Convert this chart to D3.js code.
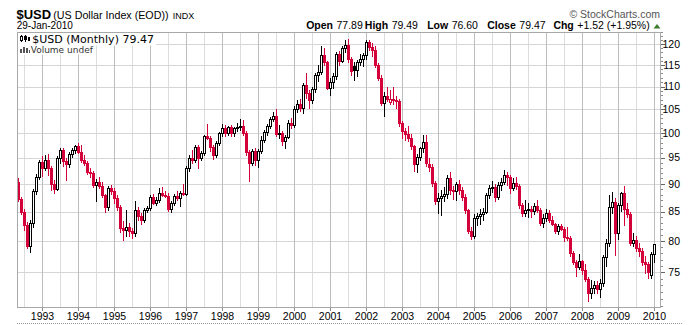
<!DOCTYPE html>
<html><head><meta charset="utf-8">
<script src="https://cdn.jsdelivr.net/npm/d3@7"></script>
<style>
body{margin:0;background:#fff;}
svg{display:block;font-family:"Liberation Sans",Arial,sans-serif;}
</style>
</head><body>
<svg id="chart" width="692" height="325"></svg>
<script>
// ---------- DATA (monthly OHLC, $USD) ----------
const months = [
"1992-05","1992-06","1992-07","1992-08","1992-09","1992-10","1992-11","1992-12",
"1993-01","1993-02","1993-03","1993-04","1993-05","1993-06","1993-07","1993-08","1993-09","1993-10","1993-11","1993-12",
"1994-01","1994-02","1994-03","1994-04","1994-05","1994-06","1994-07","1994-08","1994-09","1994-10","1994-11","1994-12",
"1995-01","1995-02","1995-03","1995-04","1995-05","1995-06","1995-07","1995-08","1995-09","1995-10","1995-11","1995-12",
"1996-01","1996-02","1996-03","1996-04","1996-05","1996-06","1996-07","1996-08","1996-09","1996-10","1996-11","1996-12",
"1997-01","1997-02","1997-03","1997-04","1997-05","1997-06","1997-07","1997-08","1997-09","1997-10","1997-11","1997-12",
"1998-01","1998-02","1998-03","1998-04","1998-05","1998-06","1998-07","1998-08","1998-09","1998-10","1998-11","1998-12",
"1999-01","1999-02","1999-03","1999-04","1999-05","1999-06","1999-07","1999-08","1999-09","1999-10","1999-11","1999-12",
"2000-01","2000-02","2000-03","2000-04","2000-05","2000-06","2000-07","2000-08","2000-09","2000-10","2000-11","2000-12",
"2001-01","2001-02","2001-03","2001-04","2001-05","2001-06","2001-07","2001-08","2001-09","2001-10","2001-11","2001-12",
"2002-01","2002-02","2002-03","2002-04","2002-05","2002-06","2002-07","2002-08","2002-09","2002-10","2002-11","2002-12",
"2003-01","2003-02","2003-03","2003-04","2003-05","2003-06","2003-07","2003-08","2003-09","2003-10","2003-11","2003-12",
"2004-01","2004-02","2004-03","2004-04","2004-05","2004-06","2004-07","2004-08","2004-09","2004-10","2004-11","2004-12",
"2005-01","2005-02","2005-03","2005-04","2005-05","2005-06","2005-07","2005-08","2005-09","2005-10","2005-11","2005-12",
"2006-01","2006-02","2006-03","2006-04","2006-05","2006-06","2006-07","2006-08","2006-09","2006-10","2006-11","2006-12",
"2007-01","2007-02","2007-03","2007-04","2007-05","2007-06","2007-07","2007-08","2007-09","2007-10","2007-11","2007-12",
"2008-01","2008-02","2008-03","2008-04","2008-05","2008-06","2008-07","2008-08","2008-09","2008-10","2008-11","2008-12",
"2009-01","2009-02","2009-03","2009-04","2009-05","2009-06","2009-07","2009-08","2009-09","2009-10","2009-11","2009-12",
"2010-01"];

const open = [
90.4,87.2,85.0,82.6,79.1,83.1,88.6,91.2,
94.2,93.0,94.5,92.9,90.0,89.1,94.9,96.5,94.3,93.7,95.7,96.5,
97.3,96.1,94.6,94.0,92.3,92.1,89.8,90.3,89.6,87.9,85.8,89.2,
88.6,87.5,85.8,82.1,81.8,82.4,81.6,81.3,85.3,84.2,83.6,85.3,
85.6,87.6,86.6,87.0,88.3,88.0,87.8,85.5,86.5,87.8,87.5,88.3,
88.1,92.9,95.0,94.5,97.2,95.0,96.0,99.3,98.9,97.1,95.5,98.0,
99.9,101.0,99.9,101.2,99.9,100.9,101.1,101.4,99.9,96.2,94.0,96.4,
94.5,96.3,98.6,100.1,101.3,102.9,103.5,99.7,100.0,98.4,99.2,102.1,
101.6,105.0,106.2,105.2,110.4,108.6,106.9,109.4,112.7,113.3,117.3,115.6,
109.7,111.0,112.3,117.7,116.0,119.2,119.8,116.4,114.7,113.7,115.6,116.4,
117.3,120.5,119.3,118.6,115.0,112.0,106.3,107.8,106.6,107.1,106.9,106.7,
102.0,100.3,99.8,99.0,97.3,93.8,95.1,96.9,98.2,93.8,93.1,90.2,
86.9,87.4,87.7,88.2,91.0,88.9,88.6,89.9,88.9,87.6,85.2,81.7,
80.9,83.9,84.3,84.6,85.0,88.0,89.2,89.4,87.6,89.8,90.4,91.7,
91.2,89.2,90.2,89.6,86.1,84.8,85.2,85.4,85.1,85.9,85.3,83.1,
83.8,84.8,83.6,82.9,81.6,82.5,82.0,80.6,80.5,78.0,76.6,75.9,
76.7,75.3,73.9,71.8,72.6,73.0,72.5,73.3,77.4,79.7,85.8,86.7,
81.3,86.1,88.3,85.4,84.6,79.6,80.2,78.8,78.4,76.6,76.3,74.6,
77.89];

const high = [
91.0,87.6,85.5,83.2,83.6,89.0,91.9,94.6,
95.3,95.6,95.7,93.3,90.7,95.3,97.0,97.0,94.9,96.2,96.9,97.6,
98.0,97.6,95.5,94.3,93.0,92.5,90.9,91.3,90.3,88.2,89.6,89.7,
89.2,88.0,86.2,83.4,85.3,83.0,82.2,86.8,85.8,84.8,85.6,85.9,
88.0,88.1,87.6,89.2,89.4,88.7,88.3,86.9,88.1,88.6,88.6,89.9,
93.3,95.5,96.5,97.6,97.6,96.3,99.6,101.9,99.4,97.5,98.3,100.2,
101.9,101.6,101.5,101.6,101.2,102.0,102.8,102.6,100.4,96.5,96.8,96.9,
96.8,99.3,100.6,101.8,103.3,104.3,105.0,101.6,100.4,99.6,102.6,103.0,
105.7,107.0,107.2,110.8,113.2,109.2,110.0,113.0,114.9,119.6,119.1,116.0,
112.0,113.0,118.0,118.3,119.6,121.0,121.3,116.9,115.8,116.2,117.6,117.9,
121.0,121.1,120.3,119.5,115.4,112.6,108.7,110.0,109.3,109.9,107.9,107.2,
102.4,101.0,101.4,99.8,97.5,95.8,97.2,99.5,99.6,94.9,93.8,90.5,
88.4,88.9,89.4,91.7,92.3,89.6,90.3,90.7,89.5,88.2,85.5,82.4,
84.6,84.8,85.5,85.6,88.4,89.8,90.6,90.0,90.3,91.0,92.6,92.3,
91.6,91.0,91.2,90.0,86.6,87.0,86.5,86.0,86.6,87.1,85.7,84.6,
85.5,85.2,84.3,83.1,82.8,82.9,82.4,82.3,80.9,78.3,76.9,77.9,
77.0,76.3,74.3,73.8,73.7,73.6,73.9,77.8,80.4,87.9,88.5,87.4,
86.5,88.5,89.6,86.5,85.0,81.3,80.9,79.7,78.9,77.6,76.6,78.2,
79.49];

const low = [
86.8,84.6,81.8,78.8,78.2,82.4,88.2,90.9,
91.4,92.6,91.6,88.8,88.4,88.8,94.0,93.4,90.7,93.2,95.2,95.9,
95.9,94.2,93.6,91.9,91.3,89.5,86.8,89.3,87.6,85.0,85.3,88.1,
86.6,85.2,81.5,80.1,80.9,80.9,80.5,80.8,83.6,82.8,83.2,84.9,
85.2,86.3,86.2,86.7,87.8,87.6,85.1,84.9,86.2,87.0,85.9,87.9,
87.9,92.5,94.0,94.2,93.0,94.6,95.6,98.7,96.4,94.8,95.2,97.6,
99.3,99.4,99.5,99.4,99.3,100.4,100.6,99.5,95.5,90.6,93.6,93.5,
93.2,95.9,98.2,99.5,100.9,102.4,99.3,98.9,97.6,96.9,98.9,101.0,
101.2,104.3,104.5,104.2,107.4,105.3,106.4,108.8,111.2,112.9,114.9,109.4,
108.2,109.6,111.7,114.9,115.6,118.0,115.8,112.7,111.6,112.3,115.1,114.8,
116.5,118.6,117.2,114.6,111.5,105.9,103.6,106.8,106.1,106.0,105.3,101.5,
98.9,98.6,98.4,96.8,92.4,92.3,94.5,96.2,93.3,92.4,89.6,86.4,
84.8,84.4,86.9,87.4,88.1,87.3,87.0,88.2,87.1,84.8,81.4,80.4,
80.5,82.6,82.9,83.6,84.7,87.4,88.5,86.9,87.2,88.9,89.9,89.8,
88.4,88.9,89.0,85.6,84.2,84.3,84.1,84.0,84.6,84.9,82.6,82.4,
83.4,83.2,82.6,81.4,81.2,81.8,80.0,80.2,77.6,76.3,74.5,75.5,
74.7,73.7,70.7,71.2,71.8,71.9,71.3,72.9,76.0,79.2,84.8,77.7,
80.4,85.1,82.6,84.0,79.4,79.2,78.3,77.5,76.1,74.9,74.2,74.2,
76.60];

const close = [
87.2,85.0,82.6,79.1,83.1,88.6,91.2,94.2,
93.0,94.5,92.9,90.0,89.1,94.9,96.5,94.3,93.7,95.7,96.5,97.3,
96.1,94.6,94.0,92.3,92.1,89.8,90.3,89.6,87.9,85.8,89.2,88.6,
87.5,85.8,82.1,81.8,82.4,81.6,81.3,85.3,84.2,83.6,85.3,85.6,
87.6,86.6,87.0,88.3,88.0,87.8,85.5,86.5,87.8,87.5,88.3,88.1,
92.9,95.0,94.5,97.2,95.0,96.0,99.3,98.9,97.1,95.5,98.0,99.9,
101.0,99.9,101.2,99.9,100.9,101.1,101.4,99.9,96.2,94.0,96.4,94.5,
96.3,98.6,100.1,101.3,102.9,103.5,99.7,100.0,98.4,99.2,102.1,101.6,
105.0,106.2,105.2,110.4,108.6,106.9,109.4,112.7,113.3,117.3,115.6,109.7,
111.0,112.3,117.7,116.0,119.2,119.8,116.4,113.5,113.7,115.6,116.4,117.3,
120.5,119.3,118.6,115.0,112.0,106.3,107.8,107.3,107.1,106.9,106.7,102.0,
100.3,99.8,99.0,97.3,93.8,95.1,96.9,98.2,94.0,93.1,90.2,86.9,
87.4,87.7,88.2,91.0,88.9,88.6,89.9,88.9,87.6,85.2,81.7,80.9,
83.9,84.3,84.6,85.0,88.0,89.2,89.4,87.6,89.8,90.4,91.7,91.2,
89.2,90.2,89.6,86.1,84.8,85.2,85.4,85.1,85.9,85.3,83.1,83.8,
84.8,83.6,82.9,81.6,82.5,82.0,80.6,80.5,78.0,76.6,75.9,76.7,
75.3,73.9,71.8,72.6,73.0,72.5,73.3,77.4,79.7,85.8,86.7,81.3,
86.1,88.3,85.4,84.6,79.6,80.2,78.8,78.4,76.6,76.3,75.0,77.95,
79.47];

const yTicks = [75,80,85,90,95,100,105,110,115,120];
const yearLabels = ["1993","1994","1995","1996","1997","1998","1999","2000","2001",
  "2002","2003","2004","2005","2006","2007","2008","2009","2010"];

// ---------- LAYOUT ----------
const RED = "#d4003a";
const L = 17.5, R = 660.5, T = 32.5, B = 307.5;
const monthIdx = s => { const p = s.split("-").map(Number); return (p[0]-1993)*12 + (p[1]-1); };

const data = months.map((m,i)=>({m:monthIdx(m),o:open[i],h:high[i],l:low[i],c:close[i]}));

const x = d3.scaleLinear().domain([0,204]).range([42.5,654.5]);
const y = d3.scaleLog().domain([75,120]).range([272.3,44.3]);
const py = v => Math.round(y(v)) + 0.5;

const svg = d3.select("#chart");
svg.append("rect").attr("width",692).attr("height",325).attr("fill","#fff");

svg.append("defs").append("clipPath").attr("id","clip")
  .append("rect").attr("x",L).attr("y",T).attr("width",R-L).attr("height",B-T);

const grid = svg.append("g").attr("shape-rendering","crispEdges");
const halfYears = yearLabels.map(s=>+s-1).map(yr=>(yr-1993)*12+6);
grid.selectAll("line.hy").data(halfYears).join("line")
  .attr("x1",d=>x(d)).attr("x2",d=>x(d)).attr("y1",T).attr("y2",B)
  .attr("stroke","#dcdcdc");
grid.selectAll("line.h").data(yTicks).join("line")
  .attr("x1",L).attr("x2",R).attr("y1",d=>py(d)).attr("y2",d=>py(d))
  .attr("stroke","#d6d6d6");
grid.selectAll("line.yr").data(yearLabels).join("line")
  .attr("x1",d=>x(monthIdx(d+"-01"))).attr("x2",d=>x(monthIdx(d+"-01")))
  .attr("y1",T).attr("y2",B).attr("stroke","#bdbdbd");

// ---------- CANDLES ----------
const cg = svg.append("g").attr("clip-path","url(#clip)").attr("shape-rendering","crispEdges");
const colorOf = (d,i) => {
  const prev = i>0 ? data[i-1].c : d.o;
  return d.c >= prev ? "#000" : RED;
};
cg.selectAll("line.wick").data(data).join("line")
  .attr("x1",d=>x(d.m)).attr("x2",d=>x(d.m))
  .attr("y1",d=>Math.round(y(d.h))).attr("y2",d=>Math.round(y(d.l))+1)
  .attr("stroke",(d,i)=>colorOf(d,i)).attr("stroke-width",1);

cg.selectAll("rect.body").data(data).join("rect")
  .each(function(d,i){
    const col = colorOf(d,i);
    const t = Math.round(Math.min(y(d.o),y(d.c)));
    const b = Math.round(Math.max(y(d.o),y(d.c)));
    const s = d3.select(this);
    if (d.c > d.o) {
      s.attr("x",x(d.m)-1).attr("y",t+0.5).attr("width",2).attr("height",Math.max(1,b-t))
       .attr("fill","#fff").attr("stroke",col).attr("stroke-width",1);
    } else {
      s.attr("x",x(d.m)-1.5).attr("y",t).attr("width",3).attr("height",Math.max(2,b-t+1))
       .attr("fill",col);
    }
  });

// ---------- FRAME & AXES ----------
const ax = svg.append("g").attr("shape-rendering","crispEdges");
ax.append("rect").attr("x",L).attr("y",T).attr("width",R-L).attr("height",B-T)
  .attr("fill","none").attr("stroke","#a8a8a8");
const minor = d3.range(70,124,1);
ax.selectAll("line.mt").data(minor).join("line")
  .attr("x1",R).attr("x2",R+2).attr("y1",d=>py(d)).attr("y2",d=>py(d)).attr("stroke","#888");
ax.selectAll("line.Mt").data(yTicks).join("line")
  .attr("x1",R).attr("x2",R+4).attr("y1",d=>py(d)).attr("y2",d=>py(d)).attr("stroke","#666");
ax.selectAll("line.bt").data(yearLabels).join("line")
  .attr("x1",d=>x(monthIdx(d+"-01"))).attr("x2",d=>x(monthIdx(d+"-01")))
  .attr("y1",B).attr("y2",B+3).attr("stroke","#888");
ax.append("line").attr("x1",17).attr("x2",682).attr("y1",323.5).attr("y2",323.5)
  .attr("stroke","#9a9a9a").attr("stroke-dasharray","1,1");

svg.selectAll("text.yl").data(yTicks).join("text")
  .attr("x",680).attr("y",d=>y(d)+3.8).attr("text-anchor","end")
  .attr("font-size","10.5px").attr("fill","#000").text(d=>d);

svg.selectAll("text.xl").data(yearLabels).join("text")
  .attr("x",d=>x(monthIdx(d+"-01"))).attr("y",320).attr("text-anchor","middle")
  .attr("font-size","10.5px").attr("fill","#000").text(d=>d);

// ---------- HEADER ----------
const hd = svg.append("g");
hd.append("text").attr("x",16.5).attr("y",18.5).attr("font-size","13px").attr("font-weight","bold").text("$USD");
hd.append("text").attr("x",53.3).attr("y",18.5).attr("font-size","10.7px").text("(US Dollar Index (EOD))");
hd.append("text").attr("x",172.7).attr("y",18.5).attr("font-size","9px").text("INDX");
hd.append("text").attr("x",16.7).attr("y",29.3).attr("font-size","10px").text("29-Jan-2010");
hd.append("text").attr("x",660).attr("y",18).attr("text-anchor","end").attr("font-size","10.5px")
  .attr("fill","#555").text("\u00A9 StockCharts.com");

const statLabels = ["Open","High","Low","Close","Chg"];
const statValues = ["77.89","79.49","76.60","79.47","+1.52 (+1.95%)"];
const statX = [336.5,391.7,451.7,519.3,577.3];
hd.selectAll("text.sl").data(statLabels).join("text")
  .attr("x",(d,i)=>statX[i]-3.5).attr("y",29.3).attr("text-anchor","end")
  .attr("font-size","10.5px").attr("font-weight","bold").text(d=>d);
hd.selectAll("text.sv").data(statValues).join("text")
  .attr("x",(d,i)=>statX[i]).attr("y",29.3)
  .attr("font-size","10.5px").text(d=>d);
hd.append("path").attr("d","M653.5,28.5 L660.5,28.5 L657,24 Z").attr("fill","#3a7a2a");

// ---------- LEGEND ----------
const lg = svg.append("g");
lg.append("rect").attr("x",18).attr("y",33).attr("width",138).attr("height",12.5).attr("fill","#fff");
lg.append("rect").attr("x",18).attr("y",45.5).attr("width",76).attr("height",9).attr("fill","#fff");
const ic = lg.append("g").attr("shape-rendering","crispEdges");
ic.append("line").attr("x1",21.5).attr("x2",21.5).attr("y1",35).attr("y2",42).attr("stroke","#000");
ic.append("rect").attr("x",20.5).attr("y",36.5).attr("width",2).attr("height",4).attr("fill","#fff").attr("stroke","#000");
ic.append("line").attr("x1",25.5).attr("x2",25.5).attr("y1",35).attr("y2",42).attr("stroke","#000");
ic.append("rect").attr("x",24).attr("y",36).attr("width",3).attr("height",4).attr("fill","#000");
ic.append("rect").attr("x",28).attr("y",37).attr("width",2).attr("height",4).attr("fill","#000");
lg.append("text").attr("x",32.3).attr("y",43.3).attr("font-family","'DejaVu Sans',Verdana,sans-serif")
  .attr("font-size","11px").attr("fill","#000").text("$USD (Monthly) 79.47");
const vi = lg.append("g").attr("shape-rendering","crispEdges").attr("fill","#555");
vi.append("rect").attr("x",20).attr("y",49).attr("width",2).attr("height",4);
vi.append("rect").attr("x",23).attr("y",47).attr("width",2).attr("height",6);
vi.append("rect").attr("x",26).attr("y",48).attr("width",2).attr("height",5);
vi.append("rect").attr("x",29).attr("y",50).attr("width",1).attr("height",3);
lg.append("text").attr("x",30.7).attr("y",53).attr("font-family","'DejaVu Sans',Verdana,sans-serif")
  .attr("font-size","9px").attr("fill","#333").text("Volume undef");
</script>
</body></html>
